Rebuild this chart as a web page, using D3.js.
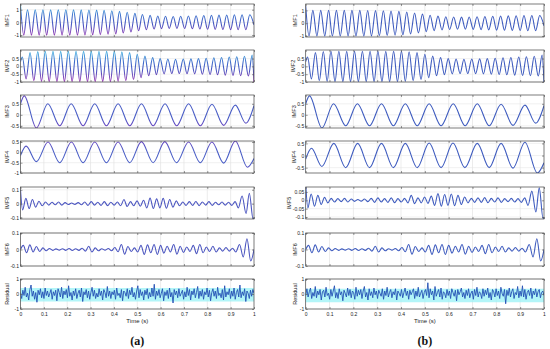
<!DOCTYPE html>
<html>
<head>
<meta charset="utf-8">
<script src="https://cdn.jsdelivr.net/npm/d3@7"></script>
<style>
    body { margin: 0; background: #fff; }
    svg text { font-family: "Liberation Sans", Arial, sans-serif; }
    .tick text { font-size: 5px; fill: #222; }
    .tick line { stroke: #555; stroke-width: 0.6; }
</style>
</head>
<body>
<svg id="chart" width="550" height="349"></svg>
<script>
// x axis ticks (time in seconds)
var xTicks = [0, 0.1, 0.2, 0.3, 0.4, 0.5, 0.6, 0.7, 0.8, 0.9, 1];
var xTickLabels = ["0", "0.1", "0.2", "0.3", "0.4", "0.5", "0.6", "0.7", "0.8", "0.9", "1"];

// IMF1: extrema (time, value)
var imf1T = [0, 0.014, 0.030, 0.047, 0.063, 0.080, 0.096, 0.112, 0.129, 0.145, 0.162, 0.178, 0.194, 0.211, 0.227,
    0.244, 0.260, 0.276, 0.293, 0.309, 0.326, 0.342, 0.358, 0.375, 0.391, 0.408, 0.424, 0.440, 0.457, 0.473,
    0.490, 0.506, 0.522, 0.539, 0.555, 0.572, 0.588, 0.604, 0.621, 0.637, 0.654, 0.670, 0.686, 0.703, 0.719,
    0.736, 0.752, 0.768, 0.785, 0.801, 0.818, 0.834, 0.850, 0.867, 0.883, 0.900, 0.916, 0.932, 0.949, 0.965, 0.982, 1];
var imf1V = [1.35, -1.0, 1.0, -1.0, 1.0, -1.0, 1.0, -1.0, 1.0, -1.0, 1.0, -1.0, 1.0, -1.0, 1.0,
    -1.0, 0.99, -0.99, 0.98, -0.97, 0.97, -0.96, 0.95, -0.93, 0.92, -0.9, 0.87, -0.84, 0.8, -0.76,
    0.71, -0.66, 0.62, -0.58, 0.55, -0.52, 0.5, -0.49, 0.48, -0.47, 0.47, -0.47, 0.48, -0.48, 0.5,
    -0.5, 0.52, -0.52, 0.54, -0.54, 0.56, -0.55, 0.57, -0.56, 0.58, -0.57, 0.6, -0.58, 0.6, -0.58, 0.6, -0.2];

// IMF2
var imf2T = [0, 0.008, 0.024, 0.041, 0.057, 0.074, 0.090, 0.106, 0.123, 0.139, 0.156, 0.172, 0.188, 0.205, 0.221,
    0.238, 0.254, 0.270, 0.287, 0.303, 0.320, 0.336, 0.352, 0.369, 0.385, 0.402, 0.418, 0.434, 0.451, 0.467,
    0.484, 0.500, 0.516, 0.533, 0.549, 0.566, 0.582, 0.598, 0.615, 0.631, 0.648, 0.664, 0.680, 0.697, 0.713,
    0.730, 0.746, 0.762, 0.779, 0.795, 0.812, 0.828, 0.844, 0.861, 0.877, 0.894, 0.910, 0.926, 0.943, 0.959,
    0.976, 0.992, 1];
var imf2V = [0.3, 0.6, -0.8, 0.88, -0.92, 0.95, -0.96, 0.97, -0.97, 0.97, -0.97, 0.97, -0.97, 0.97, -0.97,
    0.97, -0.97, 0.97, -0.97, 0.97, -0.97, 0.97, -0.97, 0.97, -0.97, 0.97, -0.96, 0.94, -0.92, 0.88,
    -0.84, 0.78, -0.72, 0.66, -0.6, 0.56, -0.53, 0.5, -0.48, 0.47, -0.46, 0.46, -0.46, 0.47, -0.47,
    0.48, -0.48, 0.5, -0.5, 0.52, -0.52, 0.55, -0.54, 0.57, -0.56, 0.6, -0.58, 0.62, -0.6, 0.65,
    -0.62, 0.72, -1.0];

// IMF3
var imf3T = [0, 0.016, 0.068, 0.117, 0.168, 0.217, 0.268, 0.318, 0.368, 0.418, 0.468, 0.518, 0.568,
    0.619, 0.669, 0.72, 0.77, 0.82, 0.87, 0.92, 0.965, 1];
var imf3V = [0.5, 0.86, -0.6, 0.5, -0.5, 0.5, -0.5, 0.5, -0.5, 0.5, -0.5, 0.5, -0.5,
    0.5, -0.5, 0.5, -0.5, 0.48, -0.48, 0.44, -0.38, 0.42];

// IMF4
var imf4T = [0, 0.024, 0.068, 0.118, 0.168, 0.218, 0.268, 0.318, 0.368, 0.418, 0.468, 0.518, 0.568,
    0.618, 0.668, 0.72, 0.77, 0.82, 0.87, 0.92, 0.972, 1];
var imf4V = [-0.15, 0.3, -0.45, 0.5, -0.5, 0.5, -0.5, 0.5, -0.5, 0.5, -0.5, 0.52, -0.5,
    0.52, -0.5, 0.5, -0.5, 0.5, -0.52, 0.55, -0.72, -0.3];

// IMF5
var imf5T = [0, 0.009, 0.023, 0.037, 0.051, 0.065, 0.079, 0.093, 0.107, 0.121, 0.135, 0.149, 0.163, 0.177,
    0.191, 0.205, 0.219, 0.233, 0.247, 0.261, 0.275, 0.289, 0.303, 0.317, 0.331, 0.345, 0.359, 0.373,
    0.387, 0.401, 0.415, 0.429, 0.443, 0.457, 0.471, 0.485, 0.499, 0.513, 0.527, 0.541, 0.555, 0.569,
    0.583, 0.597, 0.611, 0.625, 0.639, 0.653, 0.667, 0.681, 0.695, 0.709, 0.723, 0.737, 0.751, 0.765,
    0.779, 0.793, 0.807, 0.821, 0.835, 0.849, 0.863, 0.877, 0.891, 0.905, 0.919, 0.933, 0.949, 0.966,
    0.98, 0.996, 1];
var imf5V = [0.1, -0.045, 0.038, -0.035, 0.03, -0.025, 0.018, -0.015, 0.012, -0.01, 0.01, -0.008, 0.012, -0.01,
    0.008, -0.006, 0.005, -0.005, 0.008, -0.008, 0.012, -0.012, 0.015, -0.01, 0.01, -0.012, 0.015, -0.014,
    0.01, -0.01, 0.012, -0.015, 0.03, -0.02, 0.015, -0.015, 0.02, -0.018, 0.025, -0.03, 0.04, -0.035,
    0.035, -0.03, 0.038, -0.032, 0.03, -0.025, 0.02, -0.015, 0.012, -0.012, 0.015, -0.012, 0.016, -0.014,
    0.012, -0.01, 0.015, -0.012, 0.01, -0.008, 0.012, -0.01, 0.01, -0.012, 0.015, -0.03, 0.055, -0.07,
    0.075, -0.11, -0.1];

// IMF6
var imf6T = [0, 0.012, 0.026, 0.040, 0.054, 0.068, 0.082, 0.096, 0.110, 0.124, 0.138, 0.152, 0.166, 0.180,
    0.194, 0.208, 0.222, 0.236, 0.250, 0.264, 0.278, 0.292, 0.306, 0.320, 0.334, 0.348, 0.362, 0.376,
    0.390, 0.404, 0.418, 0.432, 0.446, 0.460, 0.474, 0.488, 0.502, 0.516, 0.530, 0.544, 0.558, 0.572,
    0.586, 0.600, 0.614, 0.628, 0.642, 0.656, 0.670, 0.684, 0.698, 0.712, 0.726, 0.740, 0.754, 0.768,
    0.782, 0.796, 0.810, 0.824, 0.838, 0.852, 0.866, 0.880, 0.894, 0.908, 0.922, 0.938, 0.954, 0.970,
    0.986, 1];
var imf6V = [0, 0.025, -0.02, 0.028, -0.015, 0.018, -0.012, 0.01, -0.008, 0.006, -0.005, 0.004, -0.004, 0.005,
    -0.005, 0.006, -0.006, 0.005, -0.005, 0.008, -0.01, 0.02, -0.015, 0.01, -0.008, 0.005, -0.004, 0.006,
    -0.008, 0.012, -0.014, 0.03, -0.028, 0.018, -0.012, 0.01, -0.015, 0.025, -0.03, 0.028, -0.02, 0.03,
    -0.03, 0.025, -0.022, 0.02, -0.015, 0.03, -0.028, 0.02, -0.018, 0.015, -0.012, 0.025, -0.025, 0.03,
    -0.02, 0.015, -0.012, 0.02, -0.015, 0.01, -0.01, 0.012, -0.01, 0.008, -0.015, 0.03, -0.045, 0.065,
    -0.07, 0.0];

// Residuals (evenly sampled over 0..1 s)
var residualA = [0.1, -0.3, 0.25, -0.1, 0.45, -0.2, 0.05, -0.4, 0.3, 0.6, -0.15, 0.2, -0.35, 0.1, -0.55, 0.25, -0.05, 0.35, -0.25, 0.15,
    -0.3, 0.4, -0.1, 0.2, -0.2, 0.05, 0.3, -0.35, 0.15, -0.1, 0.25, -0.45, 0.35, 0.1, -0.2, 0.45, -0.3, 0.2, -0.05, 0.3,
    -0.25, 0.55, -0.15, 0.1, -0.4, 0.2, -0.1, 0.35, -0.3, 0.05, 0.25, -0.2, 0.4, -0.5, 0.15, -0.05, 0.3, -0.25, 0.2, -0.35,
    0.1, 0.45, -0.15, 0.25, -0.3, 0.05, -0.2, 0.35, -0.1, 0.2, -0.4, 0.3, 0.1, -0.25, 0.5, -0.15, 0.2, -0.3, 0.15, -0.05,
    0.25, -0.35, 0.4, -0.1, 0.05, -0.25, 0.3, -0.45, 0.2, 0.1, -0.15, 0.35, -0.3, 0.25, -0.05, 0.45, -0.2, 0.1, -0.35, 0.2,
    0.55, -0.25, 0.3, -0.1, 0.15, -0.4, 0.25, -0.05, 0.35, -0.3, 0.1, -0.2, 0.4, -0.15, 0.65, -0.35, 0.2, -0.1, 0.3, -0.25,
    0.05, 0.35, -0.45, 0.15, -0.1, 0.25, -0.3, 0.4, -0.2, 0.1, -0.6, 0.3, -0.05, 0.2, -0.25, 0.35, -0.15, 0.05, 0.25, -0.35,
    0.15, -0.2, 0.45, -0.1, 0.3, -0.4, 0.2, -0.05, 0.35, -0.25, 0.1, 0.5, -0.3, 0.2, -0.15, 0.3, -0.35, 0.15, -0.05, 0.4,
    -0.2, 0.25, -0.45, 0.1, 0.35, -0.15, 0.2, -0.3, 0.45, -0.1, 0.05, -0.25, 0.3, -0.4, 0.55, -0.2, 0.15, -0.05, 0.35, -0.3,
    0.2, -0.15, 0.4, -0.35, 0.1, 0.3, -0.2, 0.6, -0.25, 0.15, -0.1, 0.35, -0.5, 0.2, 0.05, -0.3, 0.25, -0.15, 0.3, 0.05];
var residualB = [-0.1, 0.35, -0.2, 0.15, 0.4, -0.3, 0.1, -0.15, 0.5, -0.25, 0.2, -0.05, 0.3, -0.4, 0.15, 0.25, -0.2, 0.45, -0.1, 0.05,
    -0.35, 0.3, -0.15, 0.2, 0.55, -0.25, 0.1, -0.3, 0.35, -0.05, 0.15, -0.45, 0.25, 0.05, -0.2, 0.4, -0.1, 0.3, -0.25, 0.2,
    0.1, -0.35, 0.45, -0.15, 0.25, -0.05, 0.3, -0.3, 0.2, 0.5, -0.2, 0.1, -0.4, 0.35, -0.1, 0.15, -0.25, 0.4, -0.05, 0.2,
    -0.3, 0.25, 0.05, -0.15, 0.35, -0.35, 0.2, -0.1, 0.45, -0.2, 0.1, 0.3, -0.25, 0.15, -0.05, 0.35, -0.4, 0.2, 0.05, -0.15,
    0.3, -0.25, 0.1, 0.4, -0.1, 0.2, -0.35, 0.25, -0.05, 0.15, 0.35, -0.3, 0.2, -0.15, 0.45, -0.2, 0.05, 0.25, -0.3, 0.1,
    0.3, -0.1, 0.75, -0.25, 0.35, -0.05, 0.2, -0.4, 0.5, -0.15, 0.1, 0.3, -0.2, 0.4, -0.35, 0.15, 0.05, -0.25, 0.3, -0.1,
    0.2, -0.3, 0.35, 0.1, -0.15, 0.25, -0.45, 0.3, -0.05, 0.15, 0.4, -0.2, 0.1, -0.3, 0.25, -0.1, 0.35, -0.25, 0.05, 0.2,
    -0.35, 0.3, -0.1, 0.45, -0.2, 0.15, 0.05, -0.3, 0.35, -0.15, 0.25, -0.05, 0.4, -0.25, 0.1, -0.4, 0.3, 0.15, -0.2, 0.35,
    -0.1, 0.2, -0.3, 0.45, 0.05, -0.15, 0.3, -0.65, 0.25, -0.1, 0.4, -0.2, 0.15, 0.35, -0.3, 0.1, -0.05, 0.5, -0.25, 0.2,
    -0.15, 0.55, -0.2, 0.3, -0.35, 0.1, 0.25, -0.1, 0.4, -0.3, 0.2, -0.05, 0.35, -0.2, 0.15, 0.3, -0.25, 0.1, 0.2, -0.1];

function sampleTimes(n) {
    return d3.range(n).map(function(i) { return i / (n - 1); });
}

// Layout of the 7 stacked panels
var panelTops = [4, 50, 95, 141, 187, 233, 279];
var panelHeights = [33, 32, 33, 32, 32, 33, 30];

var columns = [
    {
        x0: 20.5, x1: 254, labelX: 7, caption: "(a)",
        panels: [
            { name: "IMF1", t: imf1T, v: imf1V, domain: [-1.15, 1.45], ticks: [-1, 0, 1], style: "grad" },
            { name: "IMF2", t: imf2T, v: imf2V, domain: [-1, 1.05], ticks: [-1, -0.5, 0, 0.5], style: "grad" },
            { name: "IMF3", t: imf3T, v: imf3V, domain: [-0.6, 0.9], ticks: [-0.5, 0, 0.5], style: "grad2" },
            { name: "IMF4", t: imf4T, v: imf4V, domain: [-1, 0.55], ticks: [-1, -0.5, 0, 0.5], style: "grad2" },
            { name: "IMF5", t: imf5T, v: imf5V, domain: [-0.11, 0.12], ticks: [-0.1, 0, 0.1], style: "#4c56c0" },
            { name: "IMF6", t: imf6T, v: imf6V, domain: [-0.1, 0.1], ticks: [-0.1, 0, 0.1], style: "#4c56c0" },
            { name: "Residual", t: sampleTimes(residualA.length), v: residualA, domain: [-1, 1], ticks: [-1, 0, 1], style: "#2450b4", band: [-0.5, 0.4] }
        ]
    },
    {
        x0: 305.7, x1: 544, labelX: 295.5, caption: "(b)",
        panels: [
            { name: "IMF1", t: imf1T, v: imf1V, domain: [-1.08, 1.5], ticks: [-1, 0, 1], style: "#3f5cbf" },
            { name: "IMF2", t: imf2T, v: imf2V, domain: [-1, 1.05], ticks: [-1, -0.5, 0, 0.5], style: "#3f5cbf", labelX: 293 },
            { name: "IMF3", t: imf3T, v: imf3V, domain: [-0.6, 0.9], ticks: [-0.5, 0, 0.5], style: "#3f5cbf", labelX: 294 },
            { name: "IMF4", t: imf4T, v: imf4V, domain: [-0.72, 0.6], ticks: [-0.5, 0, 0.5], style: "#3f5cbf", labelX: 294 },
            { name: "IMF5", t: imf5T, v: imf5V, domain: [-0.112, 0.08], ticks: [-0.1, -0.05, 0, 0.05], style: "#3f5cbf", labelX: 289 },
            { name: "IMF6", t: imf6T, v: imf6V, domain: [-0.1, 0.1], ticks: [-0.1, 0, 0.1], style: "#3f5cbf" },
            { name: "Residual", t: sampleTimes(residualB.length), v: residualB, domain: [-1, 1], ticks: [-1, 0, 1], style: "#2450b4", band: [-0.55, 0.35] }
        ]
    }
];

var svg = d3.select("#chart");
var defs = svg.append("defs");

columns.forEach(function(col, ci) {
    var x = d3.scaleLinear().domain([0, 1]).range([col.x0, col.x1]);

    col.panels.forEach(function(p, pi) {
        var top = panelTops[pi], h = panelHeights[pi];
        var y = d3.scaleLinear().domain(p.domain).range([top + h, top]);
        var g = svg.append("g");
        var id = "p" + ci + "_" + pi;

        defs.append("clipPath").attr("id", "clip" + id)
            .append("rect")
            .attr("x", col.x0).attr("y", top)
            .attr("width", col.x1 - col.x0).attr("height", h);

        // grid lines
        g.selectAll(".vgrid").data(xTicks.slice(1, -1)).join("line")
            .attr("x1", d => x(d)).attr("x2", d => x(d))
            .attr("y1", top).attr("y2", top + h)
            .attr("stroke", "#d8d8d8").attr("stroke-width", 0.5);
        g.selectAll(".hgrid").data(p.ticks).join("line")
            .attr("x1", col.x0).attr("x2", col.x1)
            .attr("y1", d => y(d)).attr("y2", d => y(d))
            .attr("stroke", "#e2e2e2").attr("stroke-width", 0.5);

        // light band behind the residual
        if (p.band) {
            g.append("rect")
                .attr("x", col.x0).attr("width", col.x1 - col.x0)
                .attr("y", y(p.band[1])).attr("height", y(p.band[0]) - y(p.band[1]))
                .attr("fill", "#9af2f5").attr("opacity", 0.75);
        }

        var stroke = p.style;
        if (p.style === "grad" || p.style === "grad2") {
            var grad = defs.append("linearGradient").attr("id", "g" + id)
                .attr("gradientUnits", "userSpaceOnUse")
                .attr("x1", 0).attr("x2", 0).attr("y1", top).attr("y2", top + h);
            var stops = p.style === "grad"
                ? [[0, "#36b4e2"], [0.35, "#3f70cc"], [0.65, "#4c55c0"], [1, "#9a30b0"]]
                : [[0, "#6a48c0"], [0.3, "#4a5ec6"], [0.7, "#4a5ec6"], [1, "#7040c0"]];
            stops.forEach(function(s) {
                grad.append("stop").attr("offset", s[0]).attr("stop-color", s[1]);
            });
            stroke = "url(#g" + id + ")";
        }

        var isResidual = !!p.band;
        var line = d3.line()
            .x((d, i) => x(p.t[i]))
            .y(d => y(d))
            .curve(isResidual ? d3.curveLinear : d3.curveMonotoneX);

        g.append("path")
            .datum(p.v)
            .attr("clip-path", "url(#clip" + id + ")")
            .attr("fill", "none")
            .attr("stroke", stroke)
            .attr("stroke-width", isResidual ? 0.9 : 1.1)
            .attr("stroke-linejoin", "round")
            .attr("d", line);

        // axes, MATLAB style ticks pointing inward
        var fmt = d => String(d);
        g.append("g")
            .attr("transform", "translate(" + col.x0 + ",0)")
            .call(d3.axisLeft(y).tickValues(p.ticks).tickSize(-2).tickPadding(1.5).tickFormat(fmt))
            .call(a => a.select(".domain").remove());
        g.append("g")
            .attr("transform", "translate(" + col.x1 + ",0)")
            .call(d3.axisRight(y).tickValues(p.ticks).tickSize(-2).tickFormat(""))
            .call(a => a.select(".domain").remove());
        g.append("g")
            .attr("transform", "translate(0," + top + ")")
            .call(d3.axisTop(x).tickValues(xTicks).tickSize(-2).tickFormat(""))
            .call(a => a.select(".domain").remove());
        g.append("g")
            .attr("transform", "translate(0," + (top + h) + ")")
            .call(d3.axisBottom(x).tickValues(xTicks).tickSize(-2).tickPadding(3)
                .tickFormat(isResidual ? (d, i) => xTickLabels[i] : ""))
            .call(a => a.select(".domain").remove());

        // box
        g.append("rect")
            .attr("x", col.x0).attr("y", top)
            .attr("width", col.x1 - col.x0).attr("height", h)
            .attr("fill", "none").attr("stroke", "#444").attr("stroke-width", 0.7);

        // y label
        var lx = p.labelX !== undefined ? p.labelX : col.labelX;
        g.append("text")
            .attr("transform", "translate(" + lx + "," + (top + h / 2) + ") rotate(-90)")
            .attr("text-anchor", "middle")
            .attr("dy", "0.35em")
            .style("font-size", "5.5px")
            .style("fill", "#222")
            .text(p.name);

        if (isResidual) {
            g.append("text")
                .attr("x", (col.x0 + col.x1) / 2)
                .attr("y", top + h + 14)
                .attr("text-anchor", "middle")
                .style("font-size", "6px")
                .style("fill", "#222")
                .text("Time (s)");
        }
    });

    // sub-figure caption
    svg.append("text")
        .attr("x", (col.x0 + col.x1) / 2)
        .attr("y", 345)
        .attr("text-anchor", "middle")
        .style("font-family", "'Liberation Serif', 'Times New Roman', serif")
        .style("font-weight", "bold")
        .style("font-size", "12px")
        .style("fill", "#111")
        .text(col.caption);
});
</script>
</body>
</html>
